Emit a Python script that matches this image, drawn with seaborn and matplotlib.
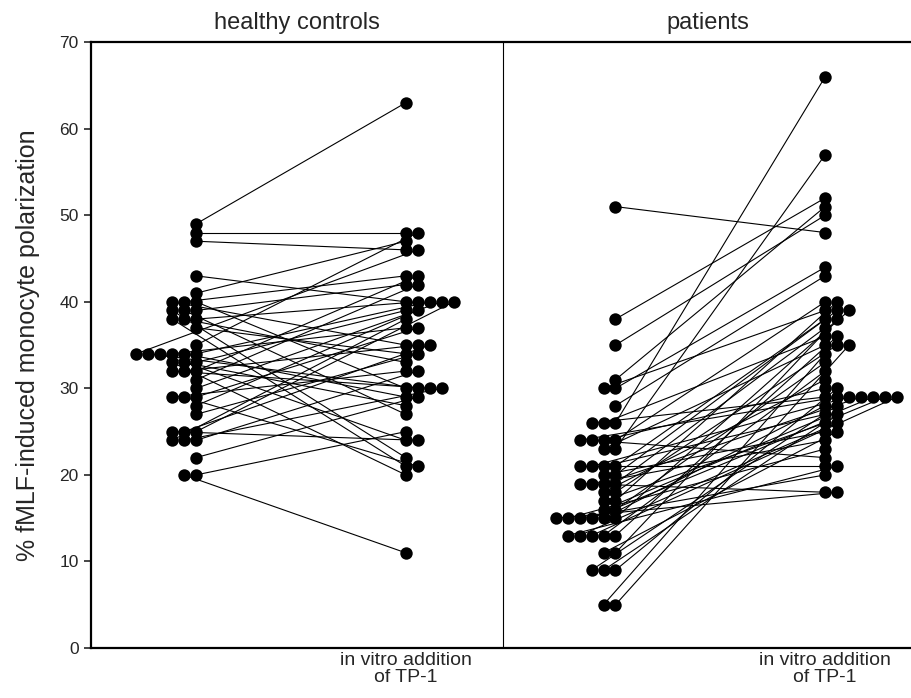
import matplotlib
matplotlib.use("Agg")
import matplotlib.pyplot as plt
import numpy as np
import pandas as pd
import seaborn as sns

# ---------------- data ----------------
panel_titles = ["healthy controls", "patients"]
tick_label = "in vitro addition\nof TP-1"
y_ticks = [0, 10, 20, 30, 40, 50, 60, 70]

# paired values (before -> after in vitro addition of TP-1)
healthy_before = [49, 48, 47, 43, 41, 40, 40, 40, 39, 39, 39, 38, 38, 38, 37, 35,
                  34, 34, 34, 34, 34, 34, 33, 33, 33, 32, 32, 32, 31, 30, 29, 29,
                  29, 28, 27, 25, 25, 25, 24, 24, 24, 22, 20, 20]
healthy_after = [63, 48, 46, 40, 47, 30, 43, 35, 42, 27, 22, 40, 33, 21, 34, 48,
                 40, 29, 37, 24, 30, 46, 39, 28, 20, 43, 35, 30, 42, 40, 37, 21,
                 32, 39, 34, 40, 35, 24, 32, 30, 38, 29, 25, 11]

patients_before = [51, 38, 35, 31, 30, 30, 28, 26, 26, 26, 24, 24, 24, 24, 23, 23,
                   21, 21, 21, 21, 20, 20, 19, 19, 19, 19, 18, 18, 17, 17, 16, 16,
                   15, 15, 15, 15, 15, 15, 13, 13, 13, 13, 13, 11, 11, 9, 9, 9, 5, 5]
patients_after = [48, 52, 50, 51, 44, 39, 43, 66, 36, 29, 40, 30, 22, 29, 57, 35,
                  38, 27, 29, 21, 39, 25, 37, 29, 24, 18, 35, 31, 40, 26, 33, 29,
                  39, 28, 29, 20, 23, 18, 36, 32, 29, 26, 21, 38, 25, 30, 27, 28, 35, 34]

# ---------------- build long table ----------------
step = 0.057  # horizontal offset for tied values (one dot width)
columns = [
    ("h", 0, healthy_before, -1),
    ("h", 1, healthy_after, +1),
    ("p", 2, patients_before, -1),
    ("p", 3, patients_after, +1),
]
rows = []
for prefix, pos, vals, direction in columns:
    seen = {}
    for i, v in enumerate(vals):
        k = seen.get(v, 0)
        seen[v] = k + 1
        rows.append({"subject": f"{prefix}{i}", "x": pos + direction * k * step, "y": v})
df = pd.DataFrame(rows)

# ---------------- plot ----------------
sns.set_style("ticks")
plt.rcParams["font.family"] = ["Liberation Sans", "DejaVu Sans"]

fig = plt.figure(figsize=(9.12, 6.98), dpi=100)
ax = fig.add_axes([0.1, 0.0716, 0.9, 0.868])

sns.lineplot(data=df, x="x", y="y", units="subject", estimator=None, sort=False,
             color="black", linewidth=0.8, ax=ax, legend=False)
sns.scatterplot(data=df, x="x", y="y", color="black", s=80, linewidth=0,
                ax=ax, legend=False, zorder=3)

ax.set_xlim(-0.5, 3.414)
ax.set_ylim(0, 70)
ax.axvline(1.462, color="black", linewidth=0.8)

ax.set_yticks(y_ticks)
ax.set_yticklabels([str(t) for t in y_ticks], fontsize=12.5)
ax.set_xticks([1, 3])
ax.set_xticklabels([tick_label, tick_label], fontsize=14, linespacing=0.95)
ax.tick_params(axis="x", length=0, pad=3)
ax.tick_params(axis="y", length=5, width=1.2, direction="out", pad=4)

ax.set_xlabel("")
ax.set_ylabel("% fMLF-induced monocyte polarization", fontsize=18)
ax.yaxis.set_label_coords(-0.062, 0.5)

for side in ["left", "bottom", "top"]:
    ax.spines[side].set_linewidth(1.6)
    ax.spines[side].set_color("black")
ax.spines["right"].set_visible(False)

ax.text(0.48, 70.9, panel_titles[0], ha="center", va="bottom", fontsize=17)
ax.text(2.44, 70.9, panel_titles[1], ha="center", va="bottom", fontsize=17)

fig.savefig("out.png", dpi=100)
